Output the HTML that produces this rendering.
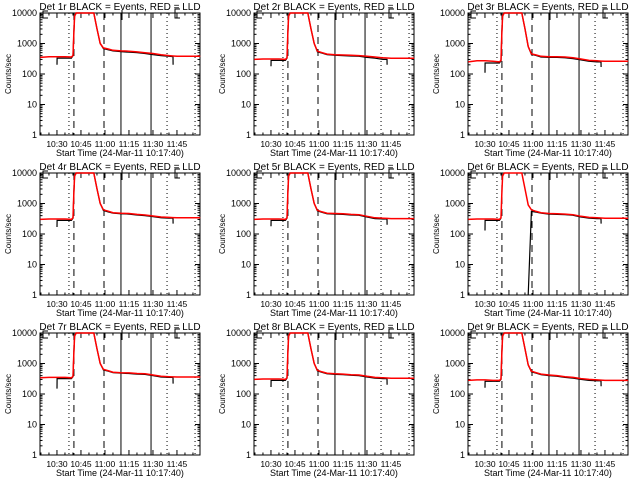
<!DOCTYPE html>
<html><head><meta charset="utf-8"><style>
body{margin:0;background:#fff}
svg{display:block}
text{font-family:"Liberation Sans",sans-serif;fill:#000}
</style></head><body>
<svg id="chart" width="640" height="480" viewBox="0 0 640 480"></svg>
<script>
const times=[19.5,25,30,30.1,35,39,40,40.5,41,42,50,53,55,57,59,62,65,70,75,80,85,90,95,100,102.5,102.6,105,110,115,119.5];
const red1=[350,370,370,370,370,360,400,2000,8000,15000,15000,15000,3000,1000,720,660,600,570,560,530,500,470,430,400,390,390,380,380,380,380];
const red2=[300,310,310,310,310,300,340,2000,8000,15000,15000,15000,3000,1000,560,500,450,430,420,410,400,380,360,340,335,335,330,330,330,330];
const red3=[250,270,270,270,260,250,280,2000,8000,15000,15000,15000,3000,800,460,420,380,370,370,360,340,310,280,270,265,265,260,260,260,260];
const red4=[300,310,310,310,310,300,340,2000,8000,15000,15000,15000,3000,1000,620,560,500,480,470,440,420,390,360,350,345,345,340,340,340,340];
const red5=[300,310,310,310,310,300,340,2000,8000,15000,15000,15000,3000,1000,600,530,480,470,460,440,430,380,340,330,325,325,320,320,320,320];
const red6=[300,310,310,310,310,300,340,2000,8000,15000,15000,15000,3000,900,620,550,500,470,460,450,430,380,350,340,335,335,330,330,330,330];
const red7=[340,350,350,350,350,340,380,2000,8000,15000,15000,15000,3000,1000,640,580,520,500,490,470,460,420,380,370,365,365,360,360,360,360];
const red8=[300,310,310,310,310,300,340,2000,8000,15000,15000,15000,3000,1000,600,530,480,460,450,430,420,380,350,340,335,335,330,330,330,330];
const red9=[280,290,290,290,280,280,310,2000,8000,15000,15000,15000,3000,900,560,500,450,420,400,370,350,320,300,290,285,285,280,280,280,280];
const black1=[null,null,200,330,330,330,400,2000,8000,15000,15000,15000,3000,1000,680,620,570,540,520,500,470,430,400,380,370,200,null,null,null,null];
const black2=[null,null,180,280,280,280,330,2000,8000,15000,15000,15000,3000,1000,530,480,430,410,400,390,380,350,330,300,300,200,null,null,null,null];
const black3=[null,null,110,230,230,230,270,2000,8000,15000,15000,15000,3000,800,440,400,360,350,350,340,320,290,260,250,250,170,null,null,null,null];
const black4=[null,null,170,280,280,280,330,2000,8000,15000,15000,15000,3000,1000,590,530,480,460,450,420,400,370,340,330,330,220,null,null,null,null];
const black5=[null,null,180,280,280,280,330,2000,8000,15000,15000,15000,3000,1000,570,510,460,450,440,420,410,360,320,310,310,200,null,null,null,null];
const black6=[null,null,130,280,280,280,330,null,null,null,null,null,null,1,550,520,480,450,440,430,410,360,330,320,320,220,null,null,null,null];
const black7=[null,null,150,320,320,320,370,2000,8000,15000,15000,15000,3000,1000,610,560,500,480,470,450,440,400,360,350,350,220,null,null,null,null];
const black8=[null,null,170,280,280,280,330,2000,8000,15000,15000,15000,3000,1000,570,510,460,440,430,410,400,360,330,320,320,200,null,null,null,null];
const black9=[null,null,160,260,260,260,300,2000,8000,15000,15000,15000,3000,900,530,480,430,400,380,350,330,300,280,270,270,180,null,null,null,null];
const reds=[red1,red2,red3,red4,red5,red6,red7,red8,red9];
const blacks=[black1,black2,black3,black4,black5,black6,black7,black8,black9];
const markerTimes=[37.5,40.6,59.4,70,88.8,98.8,116.3];
const markerStyles=["dot","dash","dash","solid","solid","dot","dot"];
const yTickVals=[1,10,100,1000,10000];
const yTickLabels=["1","10","100","1000","10000"];
const xTickVals=[30,45,60,75,90,105];
const xTickLabels=["10:30","10:45","11:00","11:15","11:30","11:45"];

const NS="http://www.w3.org/2000/svg";
const svg=document.getElementById('chart');
function mk(tag,attrs,parent){const e=document.createElementNS(NS,tag);for(const k in attrs)e.setAttribute(k,attrs[k]);(parent||svg).appendChild(e);return e;}
const W=160,H=122,T0=19.4,T1=119.4;
for(let p=0;p<9;p++){
  const col=p%3,row=Math.floor(p/3);
  const L=[40,254,468][col],Top=13+row*160;
  const g=mk('g',{});
  
  
  const xs=t=>L+(t-T0)/(T1-T0)*W;
  const ys=v=>{const lv=Math.log10(Math.max(1,v));return Top+H-lv/4*H;};
  const yc=v=>Math.max(Top,ys(v));
  const fr=mk('rect',{x:L,y:Top,width:W,height:H,fill:'none',stroke:'#000','stroke-width':1},g);
  
  
  for(let d=0;d<=4;d++){
    const y=ys(Math.pow(10,d));
    mk('line',{x1:L,x2:L+5,y1:y,y2:y,stroke:'#000'},g);
    mk('line',{x1:L+W-5,x2:L+W,y1:y,y2:y,stroke:'#000'},g);
    if(d<4)for(let m=2;m<10;m++){const ym=ys(m*Math.pow(10,d));
      mk('line',{x1:L,x2:L+2.5,y1:ym,y2:ym,stroke:'#000'},g);
      mk('line',{x1:L+W-2.5,x2:L+W,y1:ym,y2:ym,stroke:'#000'},g);}
  }
  yTickVals.forEach((v,i)=>{const t=mk('text',{x:L-3,y:ys(v)+3,'font-size':9,'text-anchor':'end'},g);t.textContent=yTickLabels[i];
    
    });
  for(let t=20;t<=115;t+=5){const x=xs(t);const major=(t%15===0);const len=major?5:2.5;
    mk('line',{x1:x,x2:x,y1:Top+H,y2:Top+H-len,stroke:'#000'},g);
    mk('line',{x1:x,x2:x,y1:Top,y2:Top+len,stroke:'#000'},g);}
  xTickVals.forEach((v,i)=>{const t=mk('text',{x:xs(v),y:Top+H+12,'font-size':8.5,'text-anchor':'middle'},g);t.textContent=xTickLabels[i];
    
    });
  const xt=mk('text',{x:L+W/2,y:Top+H+21,'font-size':9,'text-anchor':'middle'},g);
  xt.textContent='Start Time (24-Mar-11 10:17:40)';
  
  
  const yt=mk('text',{x:0,y:0,'font-size':8,'text-anchor':'middle',transform:`translate(${L-29},${Top+H/2}) rotate(-90)`},g);
  yt.textContent='Counts/sec';
  
  
  const tt=mk('text',{x:L+W/2,y:Top-3,'font-size':10,'text-anchor':'middle'},g);
  tt.textContent='Det '+(p+1)+'r BLACK = Events, RED = LLD';
  
  
  markerTimes.forEach((mt,i)=>{const x=xs(mt);const s=markerStyles[i];
    const ln=mk('line',{x1:x,x2:x,y1:Top,y2:Top+H,stroke:'#000','stroke-width':1,'stroke-dasharray':s==='dot'?'1,3':s==='dash'?'7,5':'none'},g);
    
    });
  mk('path',{d:`M${L+8} ${Top-2}H${L+3}V${Top+5}H${L+8}`,fill:'none',stroke:'#000'},g);
  mk('path',{d:`M${L+140} ${Top-4}H${L+135}V${Top+5}H${L+140}`,fill:'none',stroke:'#000'},g);
  mk('line',{x1:L+82,x2:L+82,y1:Top-3,y2:Top+7,stroke:'#000'},g);
  function poly(arr,color,name){
    let d='',pen=false;
    arr.forEach((v,i)=>{if(v===null){pen=false;return;}const x=xs(times[i]),y=yc(v);d+=(pen?'L':'M')+x.toFixed(1)+' '+y.toFixed(1);pen=true;});
    const pa=mk('path',{d:d,fill:'none',stroke:color,'stroke-width':color==='#ff0000'?1.5:1.2},g);
    
    
  }
  poly(blacks[p],'#000','events-series');
  poly(reds[p],'#ff0000','lld-series');
}
</script>
</body></html>
